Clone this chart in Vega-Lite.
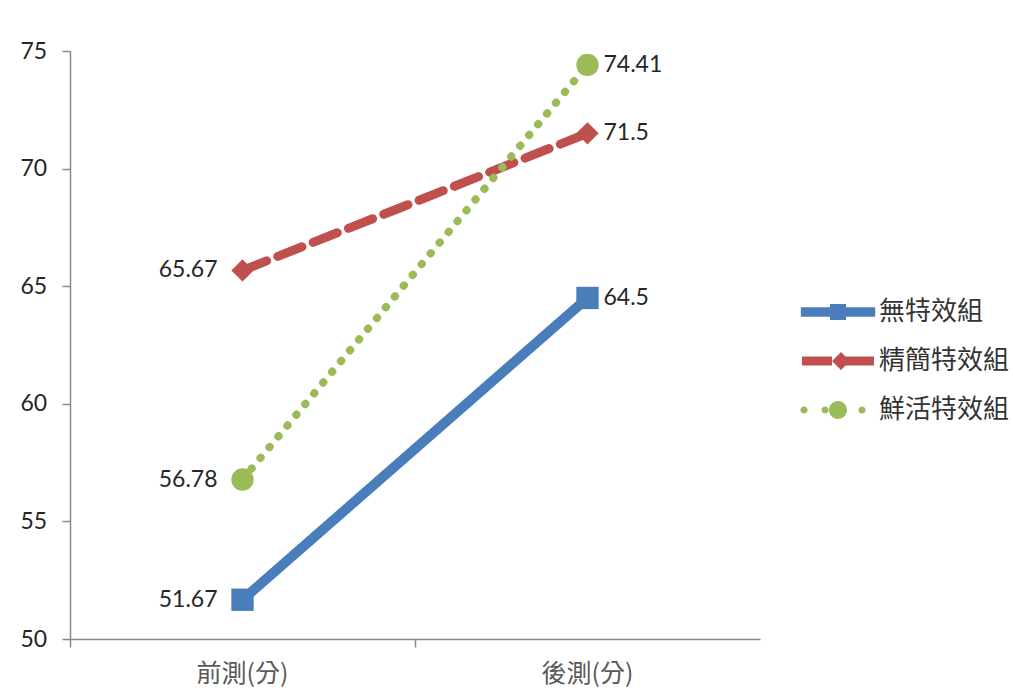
{
  "$schema": "https://vega.github.io/schema/vega-lite/v6.json",
  "width": 690,
  "height": 588,
  "autosize": {"type": "none"},
  "padding": {"left": 70, "top": 51, "right": 253, "bottom": 51},
  "background": "#ffffff",
  "config": {"view": {"stroke": null}},
  "datasets": {
    "scores": [
      {"group": "無特效組", "test": "前測(分)", "score": 51.67},
      {"group": "無特效組", "test": "後測(分)", "score": 64.5},
      {"group": "精簡特效組", "test": "前測(分)", "score": 65.67},
      {"group": "精簡特效組", "test": "後測(分)", "score": 71.5},
      {"group": "鮮活特效組", "test": "前測(分)", "score": 56.78},
      {"group": "鮮活特效組", "test": "後測(分)", "score": 74.41}
    ]
  },
  "data": {"name": "scores"},
  "encoding": {
    "x": {
      "field": "test", "type": "nominal", "sort": ["前測(分)", "後測(分)"],
      "scale": {"type": "band", "paddingInner": 0, "paddingOuter": 0},
      "axis": {
        "title": null, "labelAngle": 0, "bandPosition": 0,
        "domainColor": "#8a8a8a", "domainWidth": 1.5, "tickColor": "#8a8a8a", "tickWidth": 1.5, "tickSize": 8,
        "labelFont": "Noto Sans CJK TC", "labelFontSize": 25, "labelColor": "#595959", "labelPadding": 14
      }
    },
    "y": {
      "field": "score", "type": "quantitative",
      "scale": {"domain": [50, 75], "nice": false, "zero": false},
      "axis": {
        "title": null, "values": [50, 55, 60, 65, 70, 75], "grid": false,
        "domainColor": "#8a8a8a", "domainWidth": 1.5, "tickColor": "#8a8a8a", "tickWidth": 1.5, "tickSize": 8,
        "labelFont": "Lato", "labelFontSize": 23, "labelColor": "#262626", "labelAlign": "left", "labelPadding": 42
      }
    }
  },
  "layer": [
    {
      "mark": {"type": "line", "strokeCap": "round", "strokeJoin": "round"},
      "encoding": {
        "color": {"field": "group", "type": "nominal", "legend": null,
          "scale": {"domain": ["無特效組", "精簡特效組", "鮮活特效組"], "range": ["#4a7ebb", "#c0504d", "#9bbb59"]}},
        "strokeDash": {"field": "group", "type": "nominal", "legend": null,
          "scale": {"domain": ["無特效組", "精簡特效組", "鮮活特效組"], "range": [[1, 0], [26, 12], [0.5, 13.5]]}},
        "strokeWidth": {"field": "group", "type": "nominal", "legend": null,
          "scale": {"type": "ordinal", "domain": ["無特效組", "精簡特效組", "鮮活特效組"], "range": [10, 9, 8]}}
      }
    },
    {
      "mark": {"type": "point", "filled": true, "opacity": 1, "size": 500},
      "encoding": {
        "color": {"field": "group", "type": "nominal", "legend": null,
          "scale": {"domain": ["無特效組", "精簡特效組", "鮮活特效組"], "range": ["#4a7ebb", "#c0504d", "#9bbb59"]}},
        "shape": {"field": "group", "type": "nominal", "legend": null,
          "scale": {"domain": ["無特效組", "精簡特效組", "鮮活特效組"], "range": ["square", "diamond", "circle"]}}
      }
    },
    {
      "transform": [{"filter": "datum.test === '前測(分)'"}],
      "mark": {"type": "text", "align": "right", "baseline": "middle", "dx": -25, "font": "Lato", "fontSize": 23, "color": "#262626"},
      "encoding": {"text": {"field": "score", "type": "quantitative"}}
    },
    {
      "transform": [{"filter": "datum.test === '後測(分)'"}],
      "mark": {"type": "text", "align": "left", "baseline": "middle", "dx": 16, "font": "Lato", "fontSize": 23, "color": "#262626"},
      "encoding": {"text": {"field": "score", "type": "quantitative"}}
    },
    {
      "data": {"values": []},
      "mark": {"type": "point", "filled": true, "opacity": 1},
      "encoding": {
        "x": null, "y": null,
        "color": {"field": "group", "type": "nominal",
          "scale": {"domain": ["無特效組", "精簡特效組", "鮮活特效組"], "range": ["#4a7ebb", "#c0504d", "#9bbb59"]},
          "legend": {"orient": "none", "legendX": 755, "legendY": 248, "title": null, "padding": 0,
            "symbolSize": 576, "symbolStrokeWidth": 0, "symbolOpacity": 1,
            "labelFont": "Noto Sans CJK TC", "labelFontSize": 26, "labelColor": "#333333", "labelOffset": 28, "rowPadding": 23}},
        "shape": {"field": "group", "type": "nominal",
          "scale": {"domain": ["無特效組", "精簡特效組", "鮮活特效組"], "range": [
            "M-3.1,-0.4H3.1V0.4H-3.1Z M-0.67,-0.67H0.67V0.67H-0.67Z",
            "M-3.0,-0.38H-0.5V0.38H-3.0Z M0.2,-0.38H3.0V0.38H0.2Z M-0.5,0L0.25,-0.75L1.0,0L0.25,0.75Z",
            "M-3.13,0a0.3,0.3 0 1,0 0.6,0a0.3,0.3 0 1,0 -0.6,0Z M-1.38,0a0.3,0.3 0 1,0 0.6,0a0.3,0.3 0 1,0 -0.6,0Z M-0.75,0a0.75,0.75 0 1,0 1.5,0a0.75,0.75 0 1,0 -1.5,0Z M1.7,0a0.3,0.3 0 1,0 0.6,0a0.3,0.3 0 1,0 -0.6,0Z"
          ]},
          "legend": {"orient": "none", "legendX": 755, "legendY": 248, "title": null, "padding": 0,
            "symbolSize": 576, "symbolStrokeWidth": 0, "symbolOpacity": 1,
            "labelFont": "Noto Sans CJK TC", "labelFontSize": 26, "labelColor": "#333333", "labelOffset": 28, "rowPadding": 23}}
      }
    }
  ],
  "resolve": {
    "scale": {"color": "independent", "shape": "independent", "strokeDash": "independent", "strokeWidth": "independent"},
    "legend": {"color": "independent", "shape": "independent"}
  }
}
